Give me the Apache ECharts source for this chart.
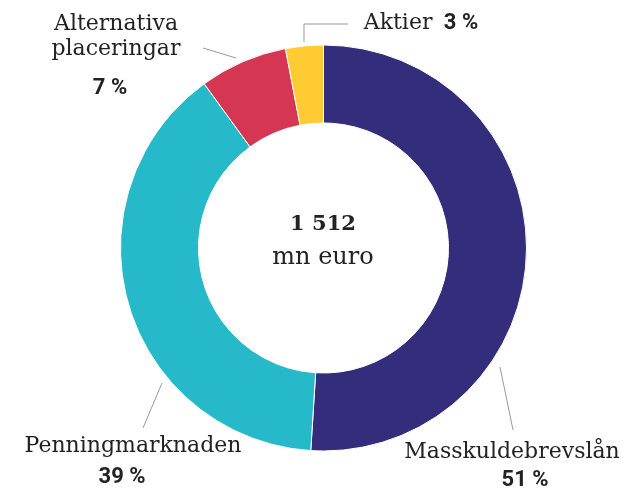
<!DOCTYPE html>
<html><head><meta charset="utf-8">
<script src="https://cdn.jsdelivr.net/npm/echarts@6/dist/echarts.min.js"></script>
<style>html,body{margin:0;padding:0;background:#fff}#c{width:628px;height:489px}</style>
</head><body><div id="c"></div>
<script>
const categories = ['Masskuldebrevslån', 'Penningmarknaden', 'Alternativa placeringar', 'Aktier'];
const values = [51, 39, 7, 3];
const labelTexts = ['Masskuldebrevslån', 'Penningmarknaden', 'Alternativa\nplaceringar', 'Aktier'];
const totalText = '1 512';
const unitText = 'mn euro';
const colors = ['#342d7c', '#25b9c9', '#d53752', '#fecb33'];

const FONT = 'DejaVu Serif';
const PFONT = 'Roboto';
// label positions (center x, center y), leader lines, percent style
const layouts = [
  {x: 512, y: 468, line: [[500, 367], [513, 430]], ps: 'pm'},
  {x: 133, y: 465, line: [[162, 383], [143, 428]], ps: 'pp'},
  {x: 116, y: 63, line: [[236, 58], [203, 48]], ps: 'pa'},
  {x: 421, y: 23, line: [[304, 42], [304, 24], [348, 24]], ps: 'p'}
];

const chart = echarts.init(document.getElementById('c'));
chart.setOption({
  animation: false,
  color: colors,
  graphic: [
    {type: 'text', x: 323, y: 225, style: {text: totalText, font: 'bold 21px ' + FONT, fill: '#222', align: 'center', verticalAlign: 'middle'}},
    {type: 'text', x: 323, y: 258, style: {text: unitText, font: '24px ' + FONT, fill: '#222', align: 'center', verticalAlign: 'middle'}}
  ],
  series: [{
    type: 'pie',
    center: [323.5, 248],
    radius: [125, 203],
    startAngle: 90,
    clockwise: true,
    itemStyle: {borderColor: '#fff', borderWidth: 1},
    data: categories.map((c, i) => ({name: c, value: values[i]})),
    label: {
      show: true,
      color: '#222',
      fontFamily: FONT,
      overflow: 'none',
      width: 300,
      formatter: p => {
        const i = p.dataIndex;
        const t = labelTexts[i].split('\n').map(s => '{n|' + s + '}').join('\n');
        const ps = layouts[i].ps;
        if (i === 3) return t + '   {p|' + p.value + ' %}';
        return t + '\n{' + ps + '|' + p.value + ' %}';
      },
      rich: {
        n: {fontFamily: FONT, fontSize: 22, color: '#222', lineHeight: 25},
        p: {fontFamily: PFONT, fontSize: 22, fontWeight: 'bold', color: '#222', lineHeight: 31},
        pm: {fontFamily: PFONT, fontSize: 22, fontWeight: 'bold', color: '#222', lineHeight: 31, padding: [0, 0, 0, 26]},
        pp: {fontFamily: PFONT, fontSize: 22, fontWeight: 'bold', color: '#222', lineHeight: 37, padding: [0, 22, 0, 0]},
        pa: {fontFamily: PFONT, fontSize: 22, fontWeight: 'bold', color: '#222', lineHeight: 52, padding: [0, 12, 0, 0]}
      }
    },
    labelLine: {show: true, lineStyle: {color: '#999', width: 1}},
    labelLayout: params => {
      const L = layouts[params.dataIndex];
      return {x: L.x, y: L.y, align: 'center', verticalAlign: 'middle', labelLinePoints: L.line};
    }
  }]
});
</script></body></html>
